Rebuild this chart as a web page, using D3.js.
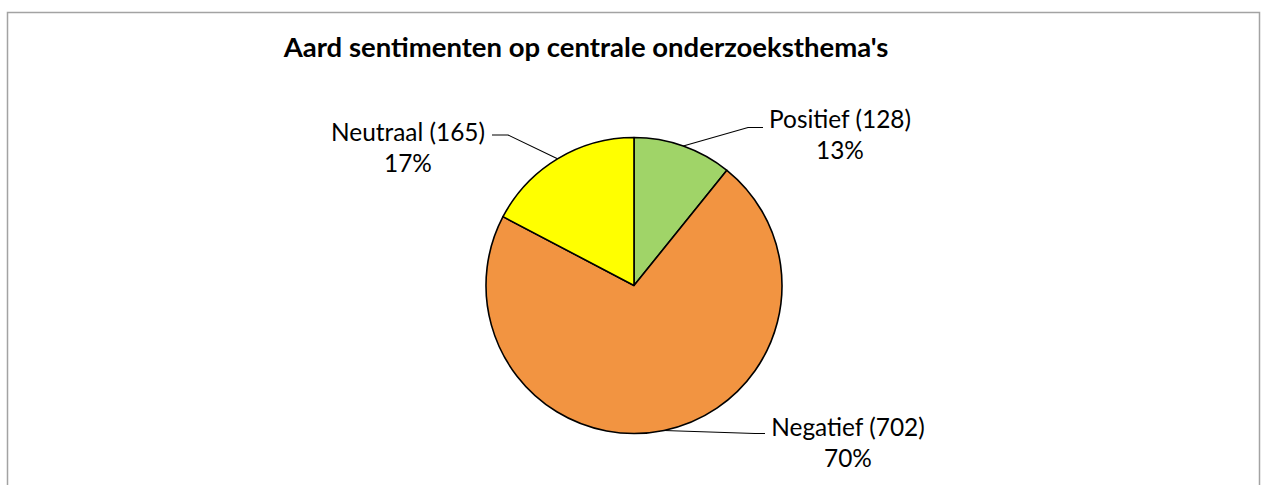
<!DOCTYPE html>
<html>
<head>
  <meta charset="utf-8">
  <title>Aard sentimenten</title>
  <script src="https://d3js.org/d3.v7.min.js"></script>
  <style>
    html, body { margin: 0; padding: 0; background: #fff; }
    text { font-family: Lato, "Open Sans", sans-serif; fill: #000; }
  </style>
</head>
<body>
<div id="chart"></div>
<script>
// Data
const categories = ["Positief", "Negatief", "Neutraal"];
const counts = [128, 702, 165];
const percentLabels = ["13%", "70%", "17%"];
// share of the circle each slice takes in the picture (%)
const sliceShares = [10.8, 71.9, 17.3];
const sliceColors = ["#a0d468", "#f29441", "#ffff00"];
const title = "Aard sentimenten op centrale onderzoeksthema's";

const width = 1261, height = 485;
const cx = 634, cy = 285.5, radius = 148;

// label layout: text centre, first baseline, and leader elbow/end
const labelLayout = [
  { x: 840, y: 128, elbow: [748, 127.5], end: [763, 127.5] },
  { x: 848, y: 436, elbow: [755, 433.5], end: [765, 433.5] },
  { x: 408, y: 141, elbow: [508, 135], end: [492, 135] }
];

const svg = d3.select("#chart").append("svg")
  .attr("width", width)
  .attr("height", height);

// chart border
svg.append("rect")
  .attr("x", 7.5).attr("y", 12.5)
  .attr("width", 1252).attr("height", 600)
  .attr("fill", "none")
  .attr("stroke", "#a3a3a3")
  .attr("stroke-width", 1.5);

// title, sized to the width it takes in the reference
const titleText = svg.append("text")
  .attr("x", 586).attr("y", 57)
  .attr("text-anchor", "middle")
  .style("font-weight", "bold")
  .style("font-size", "24px")
  .text(title);
const tw = titleText.node().getComputedTextLength();
titleText.style("font-size", (24 * 605 / tw) + "px");

const data = categories.map((c, i) => ({
  name: c, count: counts[i], pct: percentLabels[i], share: sliceShares[i], color: sliceColors[i], lay: labelLayout[i]
}));

const pie = d3.pie().sort(null).value(d => d.share);
const arc = d3.arc().innerRadius(0).outerRadius(radius);
const arcs = pie(data);

const g = svg.append("g").attr("transform", `translate(${cx},${cy})`);

g.selectAll("path.slice")
  .data(arcs)
  .enter()
  .append("path")
    .attr("class", "slice")
    .attr("d", arc)
    .attr("fill", d => d.data.color)
    .attr("stroke", "#000")
    .attr("stroke-width", 1.6)
    .attr("stroke-linejoin", "round");

// leader lines from the slice edge at its mid angle
svg.selectAll("path.leader")
  .data(arcs)
  .enter()
  .append("path")
    .attr("class", "leader")
    .attr("fill", "none")
    .attr("stroke", "#000")
    .attr("stroke-width", 1.1)
    .attr("d", d => {
      const a = (d.startAngle + d.endAngle) / 2;
      const sx = cx + radius * Math.sin(a), sy = cy - radius * Math.cos(a);
      const l = d.data.lay;
      return d3.line()([[sx, sy], l.elbow, l.end]);
    });

// data labels
const labels = svg.selectAll("text.lbl")
  .data(arcs)
  .enter()
  .append("text")
    .attr("class", "lbl")
    .attr("text-anchor", "middle")
    .style("font-size", "22px");
labels.append("tspan")
  .attr("x", d => d.data.lay.x)
  .attr("y", d => d.data.lay.y)
  .text(d => `${d.data.name} (${d.data.count})`);
labels.append("tspan")
  .attr("x", d => d.data.lay.x)
  .attr("y", d => d.data.lay.y + 31)
  .text(d => d.data.pct);

// scale label font to the reference's label width
const firstLine = labels.filter((d, i) => i === 2).select("tspan").node();
const lw = firstLine.getComputedTextLength();
labels.style("font-size", (22 * 154 / lw) + "px");
</script>
</body>
</html>
